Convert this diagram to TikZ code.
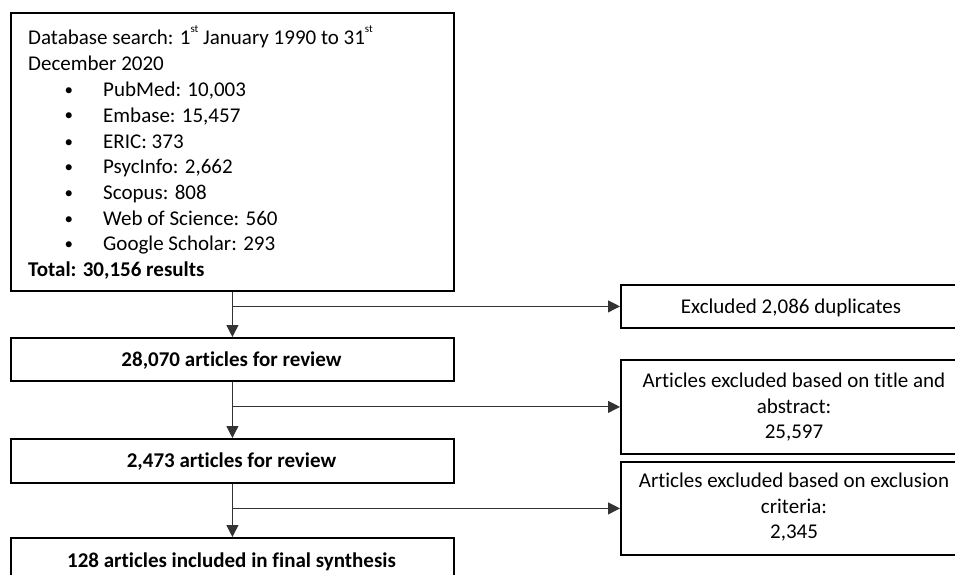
\documentclass[tikz,border=0pt]{standalone}
\usepackage{fontspec}
\setmainfont{Carlito}[Ligatures=NoCommon]
\usetikzlibrary{arrows.meta}

% small raised ordinal suffix
\newcommand{\ordsup}[1]{\raisebox{12pt}{\fontsize{11}{11}\selectfont #1}}

\begin{document}
\begin{tikzpicture}[x=1pt,y=-1pt,
  box/.style={draw=black, line width=1.8pt, rectangle, anchor=north west, inner sep=0pt},
  flow/.style={draw=black!80, line width=1.1pt, -{Triangle[length=12pt,width=12pt]}},
  txt/.style={anchor=base west, inner sep=0pt},
  ctxt/.style={anchor=base, inner sep=0pt},
  every node/.append style={font=\fontsize{21}{25.7}\selectfont}]
\useasboundingbox (0,0) rectangle (955,575);
\clip (0,0) rectangle (955,575);

% left column boxes
\node[box, minimum width=443, minimum height=278] (db) at (10,12) {};
\node[box, minimum width=443, minimum height=43] (rev1) at (10,337) {};
\node[box, minimum width=443, minimum height=44] (rev2) at (10,438) {};
\node[box, minimum width=443, minimum height=60] (final) at (10,537) {};

% right column boxes
\node[box, minimum width=342, minimum height=43] (ex1) at (620,284) {};
\node[box, minimum width=342, minimum height=94] (ex2) at (620,359) {};
\node[box, minimum width=342, minimum height=93] (ex3) at (620,461) {};

% search box text
\node[txt] (t1) at (28,45) {Database search: 1\ordsup{st} January 1990 to 31\ordsup{st}};
\node[txt] (t2) at (28,71) {December 2020};
\foreach \y/\s [count=\i] in {97/{PubMed: 10,003}, 122/{Embase: 15,457}, 148/{ERIC: 373},
    173/{PsycInfo: 2,662}, 199/{Scopus: 808}, 225/{Web of Science: 560}, 250/{Google Scholar: 293}} {
  \node[txt, font=\fontsize{17}{17}\selectfont] (b\i) at (64.5,\y-1) {•};
  \node[txt] (s\i) at (103,\y) {\s};
}
\node[txt] (tot) at (28,276) {\bfseries Total: 30,156 results};

% step texts
\node[ctxt] (r1t) at (231.5,366) {\bfseries 28,070 articles for review};
\node[ctxt] (r2t) at (231.5,467) {\bfseries 2,473 articles for review};
\node[ctxt] (ft) at (231.5,567) {\bfseries 128 articles included in final synthesis};

% exclusion texts
\node[ctxt] (e1t) at (791,313) {Excluded 2,086 duplicates};
\node[ctxt] (e2a) at (794,387) {Articles excluded based on title and};
\node[ctxt] (e2b) at (794,413) {abstract:};
\node[ctxt] (e2c) at (794,438) {25,597};
\node[ctxt] (e3a) at (794,487) {Articles excluded based on exclusion};
\node[ctxt] (e3b) at (794,513) {criteria:};
\node[ctxt] (e3c) at (794,538) {2,345};

% main flow
\draw[flow] (db.south) -- (rev1.north);
\draw[flow] (rev1.south) -- (rev2.north);
\draw[flow] (rev2.south) -- (final.north);

% branches to the exclusion boxes
\draw[flow] (db.south |- ex1.west) -- (ex1.west);
\draw[flow] (rev1.south |- ex2.west) -- (ex2.west);
\draw[flow] (rev2.south |- ex3.west) -- (ex3.west);
\end{tikzpicture}
\end{document}
